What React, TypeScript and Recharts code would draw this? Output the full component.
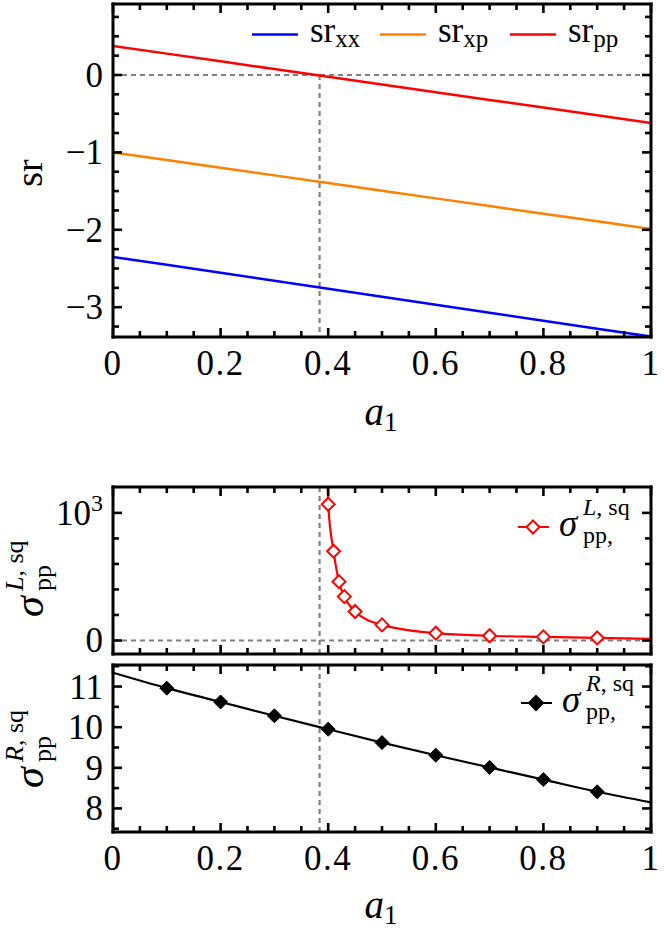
import React from 'react';
import { ComposedChart, Line, XAxis, YAxis, ReferenceLine, Legend } from 'recharts';

const FONT = '"Liberation Serif", "Times New Roman", serif';

// ---------- Top panel: squeezing ratios ----------
const a1Grid = [0, 0.1, 0.2, 0.3, 0.4, 0.5, 0.6, 0.7, 0.8, 0.9, 1.0];
const srXX = [-2.35, -2.453, -2.556, -2.659, -2.762, -2.865, -2.968, -3.071, -3.174, -3.277, -3.38];
const srXP = [-1.0, -1.099, -1.198, -1.297, -1.396, -1.495, -1.594, -1.693, -1.792, -1.891, -1.99];
const srPP = [0.375, 0.276, 0.176, 0.077, -0.023, -0.123, -0.222, -0.322, -0.421, -0.521, -0.62];
const a1Critical = 0.384;

// ---------- Middle panel: sigma^L ----------
const sigLMarkA = [0.4, 0.41, 0.42, 0.43, 0.45, 0.5, 0.6, 0.7, 0.8, 0.9];
const sigLMarkV = [1068, 700, 461, 344, 227, 122, 57, 37, 28, 20];
const sigLCurveA = [0.3985, 0.4, 0.41, 0.42, 0.43, 0.45, 0.5, 0.6, 0.7, 0.8, 0.9, 1.0];
const sigLCurveV = [1400, 1068, 700, 461, 344, 227, 122, 57, 37, 28, 20, 12];

// ---------- Bottom panel: sigma^R ----------
const sigRMarkA = [0.1, 0.2, 0.3, 0.4, 0.5, 0.6, 0.7, 0.8, 0.9];
const sigRMarkV = [10.96, 10.62, 10.28, 9.95, 9.62, 9.31, 9.01, 8.71, 8.41];
const sigRCurveA = [0, 0.1, 0.2, 0.3, 0.4, 0.5, 0.6, 0.7, 0.8, 0.9, 1.0];
const sigRCurveV = [11.34, 10.96, 10.62, 10.28, 9.95, 9.62, 9.31, 9.01, 8.71, 8.41, 8.15];

// ---------- Ticks ----------
const xMinorTicks = [0, 0.05, 0.1, 0.15, 0.2, 0.25, 0.3, 0.35, 0.4, 0.45, 0.5, 0.55, 0.6, 0.65, 0.7, 0.75, 0.8, 0.85, 0.9, 0.95, 1];
const xMajor = [0, 0.2, 0.4, 0.6, 0.8, 1];
const xMajorLabels = ['0', '0.2', '0.4', '0.6', '0.8', '1'];
const srTicks = [-3.25, -3, -2.75, -2.5, -2.25, -2, -1.75, -1.5, -1.25, -1, -0.75, -0.5, -0.25, 0, 0.25, 0.5, 0.75];
const srMajor = [-3, -2, -1, 0];
const srMajorLabels = ['\u22123', '\u22122', '\u22121', '0'];
const sigLTicks = [0, 200, 400, 600, 800, 1000];
const sigLMajor = [0, 1000];
const sigLMajorLabels = ['0', '10^3'];
const sigRTicks = [7.5, 8, 8.5, 9, 9.5, 10, 10.5, 11, 11.5];
const sigRMajor = [8, 9, 10, 11];
const sigRMajorLabels = ['8', '9', '10', '11'];

const srDomain: [number, number] = [-3.385, 0.917];
const sigLDomain: [number, number] = [-106, 1203];
const sigRDomain: [number, number] = [7.42, 11.53];

const topRows = a1Grid.map((a, i) => ({ a, xx: srXX[i], xp: srXP[i], pp: srPP[i] }));
const sigLMarkRows = sigLMarkA.map((a, i) => ({ a, v: sigLMarkV[i] }));
const sigLCurveRows = sigLCurveA.map((a, i) => ({ a, v: sigLCurveV[i] }));
const sigRMarkRows = sigRMarkA.map((a, i) => ({ a, v: sigRMarkV[i] }));
const sigRCurveRows = sigRCurveA.map((a, i) => ({ a, v: sigRCurveV[i] }));

const BLUE = '#0000ff';
const ORANGE = '#ff8000';
const RED = '#ff0000';
const GRAY = '#808080';
const DASH = '5 4';
const TICK_COLOR = '#000000';
const TICK_FONT = 35;

type Side = 'bottom' | 'top' | 'left' | 'right';

function makeTick(side: Side, majors: number[], labels?: string[]) {
  return (p: any) => {
    const v = Number(p?.payload?.value);
    const mi = majors.findIndex((m) => Math.abs(m - v) < 1e-6);
    const major = mi >= 0;
    const len = major ? 9 : 6;
    const x = Number(p.x);
    const y = Number(p.y);
    let x2 = x;
    let y2 = y;
    if (side === 'bottom') y2 = y - len;
    if (side === 'top') y2 = y + len;
    if (side === 'left') x2 = x + len;
    if (side === 'right') x2 = x - len;
    let text: React.ReactNode = null;
    if (labels && major) {
      const [base, sup] = labels[mi].split('^');
      if (side === 'bottom') {
        text = (
          <text x={x} y={y + 38} textAnchor="middle" fontFamily={FONT} fontSize={TICK_FONT} letterSpacing={1.5} fill="#000">
            {base}
          </text>
        );
      } else if (side === 'left') {
        text = (
          <text x={x - 10} y={y + 12} textAnchor="end" fontFamily={FONT} fontSize={TICK_FONT} fill="#000">
            {base}
            {sup ? (
              <tspan fontSize={24} dy={-14}>
                {sup}
              </tspan>
            ) : null}
          </text>
        );
      }
    }
    return (
      <g>
        <path d={`M${x},${y}L${x2},${y2}`} stroke={TICK_COLOR} strokeWidth={2.6} fill="none" />
        {text}
      </g>
    );
  };
}

const frameLine = { stroke: '#000', strokeWidth: 3, strokeLinecap: 'square' as const };

const aLabel = (baseline: number) => () =>
  (
    <text x={381} y={baseline} textAnchor="middle" fontFamily={FONT} fill="#000">
      <tspan fontSize={39} fontStyle="italic">
        a
      </tspan>
      <tspan fontSize={27} dy={6}>
        1
      </tspan>
    </text>
  );

const srYLabel = () => (
  <text transform="translate(42,173) rotate(-90)" textAnchor="middle" fontFamily={FONT} fontSize={38} fill="#000">
    sr
  </text>
);

const sigmaYLabel = (baseY: number, sup: string) => () =>
  (
    <g transform={`translate(43,${baseY}) rotate(-90)`} fontFamily={FONT} fill="#000">
      <text x={0} y={0} fontSize={42} fontStyle="italic">
        σ
      </text>
      <text x={26} y={-20} fontSize={26}>
        <tspan fontStyle="italic">{sup}</tspan>
        <tspan>, sq</tspan>
      </text>
      <text x={26} y={8} fontSize={26}>
        pp
      </text>
    </g>
  );

const TopLegend = () => {
  const items = [
    { c: BLUE, sub: 'xx', x: 252 },
    { c: ORANGE, sub: 'xp', x: 380 },
    { c: RED, sub: 'pp', x: 510 },
  ];
  return (
    <svg width={664} height={70} style={{ display: 'block' }}>
      {items.map((it) => (
        <g key={it.sub}>
          <line x1={it.x} y1={34.5} x2={it.x + 46} y2={34.5} stroke={it.c} strokeWidth={2.5} />
          <text x={it.x + 58} y={42} fontFamily={FONT} fontSize={35} fill="#000">
            sr
            <tspan fontSize={25} dy={5}>
              {it.sub}
            </tspan>
          </text>
        </g>
      ))}
    </svg>
  );
};

const diamondPts = (cx: number, cy: number, r: number) =>
  `${cx},${cy - r} ${cx + r},${cy} ${cx},${cy + r} ${cx - r},${cy}`;

const SigmaLegend = (props: { color: string; filled: boolean; y: number; x: number; sup: string }) => {
  const { color, filled, y, x, sup } = props;
  return (
    <svg width={664} height={100} style={{ display: 'block' }}>
      <line x1={x - 15} y1={y} x2={x + 16} y2={y} stroke={color} strokeWidth={2} />
      <polygon
        points={diamondPts(x, y, filled ? 7 : 6.5)}
        fill={filled ? color : '#fff'}
        stroke={color}
        strokeWidth={2}
      />
      <g fontFamily={FONT} fill="#000">
        <text x={x + 26} y={y + 8.5} fontSize={37} fontStyle="italic">
          σ
        </text>
        <text x={x + 50} y={y - 12} fontSize={24}>
          <tspan fontStyle="italic">{sup}</tspan>
          <tspan>, sq</tspan>
        </text>
        <text x={x + 50} y={y + 15.5} fontSize={24}>
          pp,
        </text>
      </g>
    </svg>
  );
};

const openRedDiamond = (p: any) => {
  const { cx, cy, index } = p;
  if (cx == null || cy == null) return <g key={index} />;
  return <polygon key={index} points={diamondPts(cx, cy, 6.5)} fill="#fff" stroke={RED} strokeWidth={2} />;
};

const filledBlackDiamond = (p: any) => {
  const { cx, cy, index } = p;
  if (cx == null || cy == null) return <g key={index} />;
  return <polygon key={index} points={diamondPts(cx, cy, 7)} fill="#000" stroke="#000" strokeWidth={1} />;
};

const legendWrap = (h: number) => ({
  position: 'absolute' as const,
  left: 0,
  top: 0,
  width: 664,
  height: h,
  pointerEvents: 'none' as const,
});

function axes(opts: {
  yTicks: number[];
  yMajor: number[];
  yLabels: string[];
  yDomain: [number, number];
  withXLabels: boolean;
  xHeight: number;
  xLabel?: any;
  yLabel: any;
}) {
  return [
    <XAxis
      key="xb"
      xAxisId={0}
      dataKey="a"
      type="number"
      domain={[0, 1]}
      allowDataOverflow
      ticks={xMinorTicks}
      interval={0}
      tickSize={0}
      tickMargin={0}
      tickLine={false}
      axisLine={frameLine}
      height={opts.xHeight}
      tick={makeTick('bottom', xMajor, opts.withXLabels ? xMajorLabels : undefined)}
      label={opts.xLabel}
    />,
    <XAxis
      key="xt"
      xAxisId="t"
      orientation="top"
      dataKey="a"
      type="number"
      domain={[0, 1]}
      allowDataOverflow
      ticks={xMinorTicks}
      interval={0}
      tickSize={0}
      tickMargin={0}
      tickLine={false}
      axisLine={frameLine}
      height={1}
      tick={makeTick('top', xMajor)}
    />,
    <YAxis
      key="yl"
      yAxisId={0}
      type="number"
      domain={opts.yDomain}
      allowDataOverflow
      ticks={opts.yTicks}
      interval={0}
      tickSize={0}
      tickMargin={0}
      tickLine={false}
      axisLine={frameLine}
      width={113}
      tick={makeTick('left', opts.yMajor, opts.yLabels)}
      label={opts.yLabel}
    />,
    <YAxis
      key="yr"
      yAxisId="r"
      orientation="right"
      type="number"
      domain={opts.yDomain}
      allowDataOverflow
      ticks={opts.yTicks}
      interval={0}
      tickSize={0}
      tickMargin={0}
      tickLine={false}
      axisLine={frameLine}
      width={1}
      tick={makeTick('right', opts.yMajor)}
    />,
  ];
}

export default function App() {
  return (
    <div
      style={{
        position: 'absolute',
        left: 0,
        top: 0,
        width: 664,
        height: 932,
        background: '#fff',
        fontFamily: FONT,
      }}
    >
      {/* Top panel */}
      <div style={{ position: 'absolute', left: 0, top: 0 }}>
        <ComposedChart width={664} height={460} data={topRows} margin={{ top: 3, right: 12, bottom: 0, left: 0 }}>
          {axes({
            yTicks: srTicks,
            yMajor: srMajor,
            yLabels: srMajorLabels,
            yDomain: srDomain,
            withXLabels: true,
            xHeight: 123,
            xLabel: aLabel(425),
            yLabel: srYLabel,
          })}
          <ReferenceLine y={0} stroke={GRAY} strokeWidth={2.2} strokeDasharray={DASH} />
          <ReferenceLine
            segment={[
              { x: a1Critical, y: 0 },
              { x: a1Critical, y: srDomain[0] },
            ]}
            stroke={GRAY}
            strokeWidth={2.2}
            strokeDasharray={DASH}
          />
          <Line
            xAxisId="t"
            yAxisId="r"
            dataKey="xx"
            stroke="none"
            dot={false}
            activeDot={false}
            legendType="none"
            isAnimationActive={false}
          />
          <Line dataKey="xx" type="linear" stroke={BLUE} strokeWidth={2.5} dot={false} activeDot={false} isAnimationActive={false} />
          <Line dataKey="xp" type="linear" stroke={ORANGE} strokeWidth={2.5} dot={false} activeDot={false} isAnimationActive={false} />
          <Line dataKey="pp" type="linear" stroke={RED} strokeWidth={2.5} dot={false} activeDot={false} isAnimationActive={false} />
          <Legend
            layout="vertical"
            align="center"
            verticalAlign="middle"
            wrapperStyle={legendWrap(70)}
            content={() => <TopLegend />}
          />
        </ComposedChart>
      </div>

      {/* Middle panel */}
      <div style={{ position: 'absolute', left: 0, top: 470 }}>
        <ComposedChart width={664} height={190} margin={{ top: 16, right: 12, bottom: 0, left: 0 }}>
          {axes({
            yTicks: sigLTicks,
            yMajor: sigLMajor,
            yLabels: sigLMajorLabels,
            yDomain: sigLDomain,
            withXLabels: false,
            xHeight: 6,
            yLabel: sigmaYLabel(147, 'L'),
          })}
          <ReferenceLine y={0} stroke={GRAY} strokeWidth={2.2} strokeDasharray={DASH} />
          <ReferenceLine x={a1Critical} stroke={GRAY} strokeWidth={2.2} strokeDasharray={DASH} />
          <Line
            xAxisId="t"
            yAxisId="r"
            data={sigLMarkRows}
            dataKey="v"
            stroke="none"
            dot={false}
            activeDot={false}
            legendType="none"
            isAnimationActive={false}
          />
          <Line
            data={sigLCurveRows}
            dataKey="v"
            type="monotone"
            stroke={RED}
            strokeWidth={2.2}
            dot={false}
            activeDot={false}
            isAnimationActive={false}
          />
          <Line
            data={sigLMarkRows}
            dataKey="v"
            stroke="none"
            dot={openRedDiamond}
            activeDot={false}
            isAnimationActive={false}
          />
          <Legend
            layout="vertical"
            align="center"
            verticalAlign="middle"
            wrapperStyle={legendWrap(100)}
            content={() => <SigmaLegend color={RED} filled={false} x={533} y={57} sup="L" />}
          />
        </ComposedChart>
      </div>

      {/* Bottom panel */}
      <div style={{ position: 'absolute', left: 0, top: 660 }}>
        <ComposedChart width={664} height={272} margin={{ top: 4, right: 12, bottom: 0, left: 0 }}>
          {axes({
            yTicks: sigRTicks,
            yMajor: sigRMajor,
            yLabels: sigRMajorLabels,
            yDomain: sigRDomain,
            withXLabels: true,
            xHeight: 100,
            xLabel: aLabel(258),
            yLabel: sigmaYLabel(128, 'R'),
          })}
          <ReferenceLine x={a1Critical} stroke={GRAY} strokeWidth={2.2} strokeDasharray={DASH} />
          <Line
            xAxisId="t"
            yAxisId="r"
            data={sigRMarkRows}
            dataKey="v"
            stroke="none"
            dot={false}
            activeDot={false}
            legendType="none"
            isAnimationActive={false}
          />
          <Line
            data={sigRCurveRows}
            dataKey="v"
            type="monotone"
            stroke="#000"
            strokeWidth={2.2}
            dot={false}
            activeDot={false}
            isAnimationActive={false}
          />
          <Line
            data={sigRMarkRows}
            dataKey="v"
            stroke="none"
            dot={filledBlackDiamond}
            activeDot={false}
            isAnimationActive={false}
          />
          <Legend
            layout="vertical"
            align="center"
            verticalAlign="middle"
            wrapperStyle={legendWrap(100)}
            content={() => <SigmaLegend color="#000" filled={true} x={536} y={43} sup="R" />}
          />
        </ComposedChart>
      </div>
    </div>
  );
}
